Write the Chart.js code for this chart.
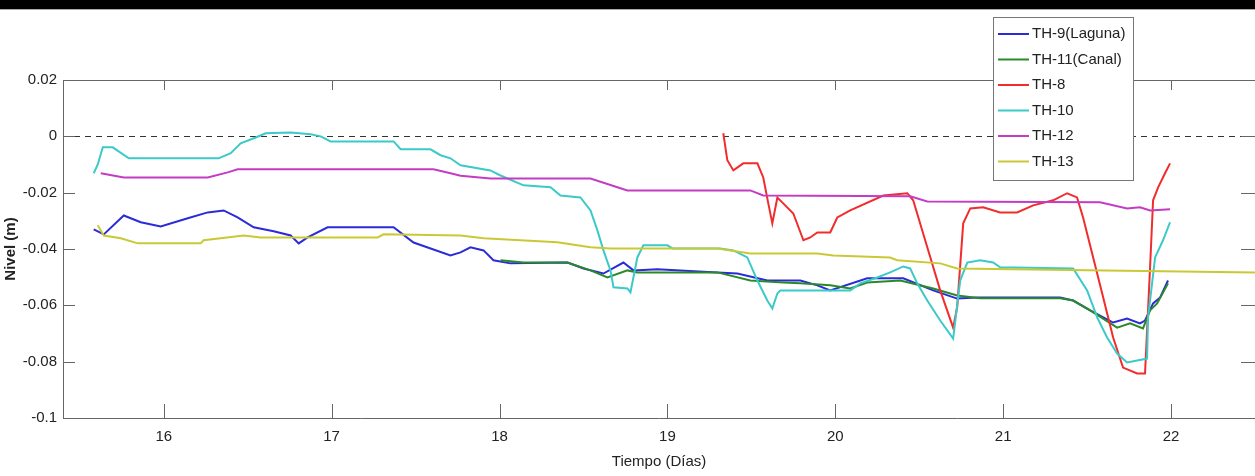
<!DOCTYPE html>
<html>
<head>
<meta charset="utf-8">
<script src="https://cdn.jsdelivr.net/npm/chart.js@4.4.1/dist/chart.umd.min.js"></script>
<style>
  html, body { margin: 0; padding: 0; background: #fff; }
  #wrap { position: relative; width: 1255px; height: 476px; }
  #banda { position: absolute; left: 0; top: 0; width: 1255px; height: 9px; background: #000; border-bottom: 1px solid #aaa; }
</style>
</head>
<body>
<div id="wrap">
  <canvas id="nivelChart" width="1255" height="476"></canvas>
  <div id="banda"></div>
</div>
<script>
// Axis ticks
const xTicks = [16, 17, 18, 19, 20, 21, 22];
const yTicks = [0.02, 0, -0.02, -0.04, -0.06, -0.08, -0.1];

// TH-9 (Laguna)
const th9Dias  = [15.583, 15.643, 15.762, 15.863, 15.982, 16.143, 16.262, 16.357, 16.440, 16.536, 16.655, 16.756, 16.804, 16.857, 16.976, 17.369, 17.488, 17.708, 17.768, 17.827, 17.905, 17.964, 18.065, 18.405, 18.500, 18.619, 18.738, 18.798, 18.940, 19.298, 19.417, 19.595, 19.792, 19.893, 19.970, 20.190, 20.405, 20.583, 20.726, 20.845, 21.339, 21.417, 21.518, 21.655, 21.738, 21.815, 21.845, 21.893, 21.935, 21.982];
const th9Nivel = [-0.0330, -0.0348, -0.0281, -0.0305, -0.0320, -0.0291, -0.0270, -0.0263, -0.0288, -0.0323, -0.0337, -0.0352, -0.0380, -0.0359, -0.0323, -0.0323, -0.0377, -0.0423, -0.0412, -0.0394, -0.0405, -0.0440, -0.0451, -0.0448, -0.0469, -0.0487, -0.0448, -0.0476, -0.0472, -0.0483, -0.0487, -0.0512, -0.0512, -0.0529, -0.0547, -0.0504, -0.0504, -0.0547, -0.0576, -0.0572, -0.0572, -0.0583, -0.0618, -0.0661, -0.0647, -0.0664, -0.0654, -0.0593, -0.0572, -0.0512];

// TH-11 (Canal)
const th11Dias  = [18.006, 18.143, 18.405, 18.542, 18.643, 18.762, 18.821, 19.298, 19.494, 19.690, 19.792, 19.970, 20.089, 20.190, 20.387, 20.583, 20.726, 20.863, 21.339, 21.417, 21.518, 21.679, 21.756, 21.833, 21.875, 21.917, 21.982];
const th11Nivel = [-0.0440, -0.0448, -0.0448, -0.0476, -0.0501, -0.0476, -0.0483, -0.0483, -0.0512, -0.0519, -0.0522, -0.0529, -0.0540, -0.0519, -0.0512, -0.0540, -0.0565, -0.0575, -0.0575, -0.0583, -0.0618, -0.0679, -0.0664, -0.0682, -0.0618, -0.0593, -0.0522];

// TH-8
const th8Dias  = [19.333, 19.357, 19.393, 19.452, 19.536, 19.571, 19.601, 19.625, 19.655, 19.690, 19.750, 19.810, 19.851, 19.893, 19.970, 20.012, 20.089, 20.286, 20.429, 20.464, 20.548, 20.625, 20.702, 20.726, 20.762, 20.804, 20.881, 20.982, 21.083, 21.179, 21.298, 21.381, 21.440, 21.476, 21.536, 21.595, 21.655, 21.714, 21.798, 21.845, 21.875, 21.893, 21.923, 21.964, 21.994];
const th8Nivel = [0.0011, -0.0085, -0.0121, -0.0096, -0.0096, -0.0146, -0.0238, -0.0309, -0.0217, -0.0238, -0.0274, -0.0369, -0.0359, -0.0341, -0.0341, -0.0288, -0.0263, -0.0210, -0.0202, -0.0227, -0.0394, -0.0547, -0.0679, -0.0607, -0.0309, -0.0256, -0.0252, -0.0270, -0.0270, -0.0245, -0.0227, -0.0202, -0.0217, -0.0288, -0.0430, -0.0570, -0.0714, -0.0821, -0.0842, -0.0842, -0.0465, -0.0227, -0.0181, -0.0131, -0.0096];

// TH-10
const th10Dias  = [15.583, 15.607, 15.637, 15.696, 15.792, 16.327, 16.399, 16.458, 16.548, 16.607, 16.756, 16.875, 16.935, 16.994, 17.369, 17.411, 17.589, 17.649, 17.708, 17.768, 17.946, 18.006, 18.143, 18.304, 18.363, 18.482, 18.542, 18.583, 18.619, 18.661, 18.679, 18.762, 18.780, 18.821, 18.857, 19.000, 19.030, 19.315, 19.393, 19.476, 19.536, 19.595, 19.625, 19.655, 19.673, 20.089, 20.149, 20.250, 20.327, 20.405, 20.446, 20.488, 20.548, 20.625, 20.702, 20.744, 20.786, 20.863, 20.940, 20.982, 21.417, 21.500, 21.560, 21.619, 21.679, 21.738, 21.798, 21.857, 21.863, 21.887, 21.905, 21.952, 21.994];
const th10Nivel = [-0.0131, -0.0100, -0.0039, -0.0039, -0.0078, -0.0078, -0.0060, -0.0025, -0.0004, 0.0011, 0.0014, 0.0007, 0.0000, -0.0018, -0.0018, -0.0046, -0.0046, -0.0067, -0.0078, -0.0103, -0.0121, -0.0139, -0.0174, -0.0181, -0.0210, -0.0217, -0.0263, -0.0334, -0.0405, -0.0476, -0.0536, -0.0540, -0.0554, -0.0430, -0.0387, -0.0387, -0.0398, -0.0398, -0.0405, -0.0430, -0.0512, -0.0583, -0.0611, -0.0558, -0.0547, -0.0547, -0.0522, -0.0501, -0.0483, -0.0462, -0.0469, -0.0522, -0.0583, -0.0654, -0.0718, -0.0512, -0.0448, -0.0440, -0.0448, -0.0465, -0.0469, -0.0547, -0.0643, -0.0714, -0.0771, -0.0803, -0.0796, -0.0789, -0.0643, -0.0522, -0.0430, -0.0369, -0.0305];

// TH-12
const th12Dias  = [15.625, 15.762, 16.262, 16.381, 16.440, 17.607, 17.708, 17.768, 17.946, 18.542, 18.702, 18.762, 19.494, 19.571, 20.446, 20.548, 21.577, 21.738, 21.815, 21.875, 21.994];
const th12Nivel = [-0.0131, -0.0146, -0.0146, -0.0128, -0.0117, -0.0117, -0.0131, -0.0140, -0.0150, -0.0150, -0.0181, -0.0192, -0.0192, -0.0210, -0.0213, -0.0231, -0.0234, -0.0256, -0.0252, -0.0263, -0.0259];

// TH-13
const th13Dias  = [15.607, 15.643, 15.744, 15.845, 16.220, 16.238, 16.339, 16.476, 16.577, 17.274, 17.310, 17.768, 17.905, 18.345, 18.542, 18.661, 19.298, 19.494, 19.893, 19.988, 20.327, 20.369, 20.625, 20.726, 22.5];
const th13Nivel = [-0.0316, -0.0352, -0.0362, -0.0380, -0.0380, -0.0369, -0.0362, -0.0352, -0.0359, -0.0359, -0.0348, -0.0352, -0.0362, -0.0376, -0.0394, -0.0398, -0.0398, -0.0416, -0.0416, -0.0423, -0.0430, -0.0440, -0.0451, -0.0469, -0.0483];

const zip = (xs, ys) => xs.map((d, i) => ({ x: d, y: ys[i] }));

const series = [
  { label: "TH-9(Laguna)", color: "#2b2bd8", dias: th9Dias, nivel: th9Nivel },
  { label: "TH-11(Canal)", color: "#2a8a2a", dias: th11Dias, nivel: th11Nivel },
  { label: "TH-8", color: "#f22c2c", dias: th8Dias, nivel: th8Nivel },
  { label: "TH-10", color: "#3cc9c9", dias: th10Dias, nivel: th10Nivel },
  { label: "TH-12", color: "#c43cc4", dias: th12Dias, nivel: th12Nivel },
  { label: "TH-13", color: "#c9c935", dias: th13Dias, nivel: th13Nivel }
];

// MATLAB style box: dashed zero line, inward ticks, legend box
const matlabAxes = {
  id: "matlabAxes",
  beforeDatasetsDraw(chart) {
    const { ctx, chartArea: a, scales: { x, y } } = chart;
    ctx.save();
    const y0 = Math.round(y.getPixelForValue(0)) + 0.5;
    ctx.strokeStyle = "#333";
    ctx.lineWidth = 1;
    ctx.setLineDash([6, 5]);
    ctx.beginPath();
    ctx.moveTo(a.left, y0);
    ctx.lineTo(a.right, y0);
    ctx.stroke();
    ctx.setLineDash([]);

    ctx.strokeStyle = "#666";
    ctx.beginPath();
    ctx.moveTo(a.left, a.top + 0.5);
    ctx.lineTo(a.right, a.top + 0.5);
    xTicks.forEach(v => {
      const px = Math.round(x.getPixelForValue(v)) + 0.5;
      ctx.moveTo(px, a.bottom);
      ctx.lineTo(px, a.bottom - 14);
      ctx.moveTo(px, a.top);
      ctx.lineTo(px, a.top + 10);
    });
    yTicks.forEach(v => {
      const py = Math.round(y.getPixelForValue(v)) + 0.5;
      ctx.moveTo(a.left, py);
      ctx.lineTo(a.left + 12, py);
      ctx.moveTo(a.right, py);
      ctx.lineTo(a.right - 14, py);
    });
    ctx.stroke();
    ctx.restore();
  },
  afterDraw(chart) {
    const ctx = chart.ctx;
    const bx = 993, by = 17, bw = 140, bh = 163;
    ctx.save();
    ctx.fillStyle = "#fff";
    ctx.fillRect(bx, by, bw, bh);
    ctx.strokeStyle = "#777";
    ctx.lineWidth = 1;
    ctx.strokeRect(bx + 0.5, by + 0.5, bw, bh);
    ctx.font = '15px "Liberation Sans", Arial, sans-serif';
    ctx.textBaseline = "middle";
    chart.data.datasets.forEach((ds, i) => {
      const ly = by + 17 + i * 25.5;
      ctx.strokeStyle = ds.borderColor;
      ctx.lineWidth = 2;
      ctx.beginPath();
      ctx.moveTo(bx + 5, ly);
      ctx.lineTo(bx + 36, ly);
      ctx.stroke();
      ctx.fillStyle = "#222";
      ctx.fillText(ds.label, bx + 39, ly);
    });
    ctx.restore();
  }
};

Chart.defaults.font.family = '"Liberation Sans", Arial, sans-serif';
Chart.defaults.color = "#222";

new Chart(document.getElementById("nivelChart"), {
  type: "line",
  data: {
    datasets: series.map((s, i) => ({
      label: s.label,
      data: zip(s.dias, s.nivel),
      borderColor: s.color,
      backgroundColor: s.color,
      borderWidth: 2,
      pointRadius: 0,
      tension: 0,
      fill: false,
      order: series.length - i
    }))
  },
  options: {
    responsive: false,
    animation: false,
    events: [],
    layout: { padding: { top: 80, right: 0, left: 0, bottom: 0 } },
    plugins: {
      legend: { display: false },
      tooltip: { enabled: false }
    },
    scales: {
      x: {
        type: "linear",
        min: 15.4,
        max: 22.5,
        afterFit: s => { s.height = 58; },
        afterBuildTicks: s => { s.ticks = xTicks.map(v => ({ value: v })); },
        grid: { display: false, drawTicks: false },
        border: { display: true, color: "#666", width: 1 },
        ticks: { font: { size: 15 }, padding: 10, maxRotation: 0 },
        title: { display: true, text: "Tiempo (Días)", font: { size: 15 }, padding: { top: 0, bottom: 5 } }
      },
      y: {
        min: -0.1,
        max: 0.02,
        afterFit: s => { s.width = 63; },
        afterBuildTicks: s => { s.ticks = yTicks.map(v => ({ value: v })); },
        grid: { display: false, drawTicks: false },
        border: { display: true, color: "#666", width: 1 },
        ticks: {
          font: { size: 15 },
          padding: 6,
          callback: v => String(Number(v.toFixed(2)))
        },
        title: { display: true, text: "Nivel (m)", font: { size: 15, weight: "bold" }, padding: { top: 2, bottom: 0 } }
      }
    }
  },
  plugins: [matlabAxes]
});
</script>
</body>
</html>
